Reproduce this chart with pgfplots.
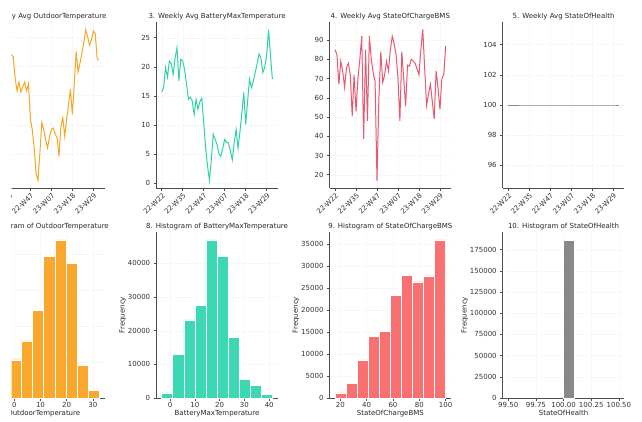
\documentclass[border=0pt]{standalone}
\usepackage{pgfplots}
\pgfplotsset{compat=1.18}
\usepackage{fontspec}
\setmainfont{DejaVu Sans}
\definecolor{corange}{RGB}{245,166,35}
\definecolor{horange}{RGB}{250,168,45}
\definecolor{cteal}{RGB}{46,210,168}
\definecolor{hteal}{RGB}{60,216,180}
\definecolor{cred}{RGB}{232,88,110}
\definecolor{hred}{RGB}{248,112,112}
\definecolor{cgray}{RGB}{136,136,136}
\pgfplotsset{
  base/.style={
    scale only axis, width=121.7pt, height=166pt, anchor=south west,
    axis x line*=bottom, axis y line*=left,
    axis line style={black!70, line width=0.6pt},
    every tick/.style={black!70, line width=0.5pt},
    tick align=outside, major tick length=2.5pt,
    tick label style={font=\fontsize{7}{8}\selectfont, text=black!80},
    x tick label style={inner sep=1.5pt},
    label style={font=\fontsize{7}{8}\selectfont, text=black!85},
    xlabel style={inner sep=1pt},
    title style={font=\fontsize{7}{8}\selectfont, text=black!85, at={(0.5,1)}, anchor=south, yshift=-6pt, inner sep=1.5pt},
    /pgf/number format/assume math mode=true,
    /pgf/number format/fixed,
    /pgf/number format/1000 sep={},
    scaled ticks=false,
    grid=major, grid style={black!3, line width=0.3pt},
  },
  lineax/.style={base, xmin=-2.9, xmax=60.9, xtick={0,11,22,33,44,55},
    xticklabels={22-W22,22-W35,22-W47,23-W07,23-W18,23-W29},
    x tick label style={rotate=45, anchor=north east, inner sep=1pt}},
  histax/.style={base, ymin=0, ylabel={Frequency}, ylabel style={yshift=-5pt}},
}
\begin{document}
\begin{tikzpicture}
\useasboundingbox (0pt,0pt) rectangle (642pt,421pt);
\begin{scope}
\clip (11.5pt,0pt) rectangle (642pt,421pt);
% ---------- Row 1 ----------
\begin{axis}[lineax, at={(-17.1pt,233pt)}, ymin=-0.7, ymax=27.5, ytick={0,5,10,15,20,25},
  title={2. Weekly Avg OutdoorTemperature}]
\addplot[corange, line width=1pt] coordinates {
(0,14) (1,15) (2,17) (3,16) (4,18) (5,17) (6,19) (7,18) (8,20) (9,19) (10,21) (11,20) (12,22)
(13,21.6) (14,18.0) (15,15.8) (16,17.3) (17,15.6) (18,16.5) (19,17.3) (20,15.8) (21,17.0)
(22,11.0) (23,9.2) (24,6.0) (25,1.7) (26,0.6) (27,5.5) (28,10.4) (29,9.2) (30,7.5) (31,6.1)
(32,8.0) (33,9.2) (34,9.5) (35,8.5) (36,7.8) (37,4.7) (38,9.8) (39,11.2) (40,8.1) (41,11)
(42,13.5) (43,16.1) (44,11.8) (45,17) (46,22.5) (47,19) (48,20.5) (49,22.2) (50,24) (51,26.2)
(52,25) (53,23.6) (54,24.5) (55,26) (56,25.5) (57,21.3) (58,21.0)};
\end{axis}
\begin{axis}[lineax, at={(156.2pt,233pt)}, ymin=-0.85, ymax=27.7, ytick={0,5,10,15,20,25},
  title={3. Weekly Avg BatteryMaxTemperature}]
\addplot[cteal, line width=1pt] coordinates {
(0,15.6) (1,16.5) (2,19.9) (3,18.2) (4,21.0) (5,20.5) (6,18.7) (7,21.5) (8,23.3) (9,17.6)
(10,21.3) (11,21.0) (12,19.5) (13,17.0) (14,14.4) (15,14.8) (16,14.1) (17,11.8) (18,14.4)
(19,12.7) (20,14.0) (21,14.6) (22,10.4) (23,6.0) (24,3.0) (25,0.45) (26,4.0) (27,8.4) (28,7.5)
(29,6.6) (30,5.0) (31,4.6) (32,6.0) (33,7.5) (34,7.0) (35,6.9) (36,5.5) (37,4.0) (38,7.0)
(39,9.2) (40,6.0) (41,8.8) (42,12.0) (43,15.6) (44,10.1) (45,14.0) (46,17.9) (47,16.4)
(48,17.5) (49,19.0) (50,20.5) (51,22.2) (52,21.5) (53,19.0) (54,19.9) (55,22.0) (56,26.4)
(57,22.0) (58,17.9)};
\end{axis}
\begin{axis}[lineax, at={(329.5pt,233pt)}, ymin=13.1, ymax=99.4, ytick={20,30,...,90},
  title={4. Weekly Avg StateOfChargeBMS}]
\addplot[cred, line width=1pt] coordinates {
(0,85) (1,82.5) (2,67) (3,79) (4,74) (5,65.5) (6,75.5) (7,78) (8,72) (9,50.5) (10,72) (11,53)
(12,70) (13,80) (14,92) (15,38.5) (16,85) (17,48) (18,92) (19,80) (20,73) (21,68.5) (22,17)
(23,60) (24,84) (25,68) (26,72) (27,79) (28,74) (29,85) (30,92) (31,88) (32,82.5) (33,70)
(34,48) (35,84) (36,70) (37,55.5) (38,77) (39,76.5) (40,80) (41,79) (42,78) (43,75) (44,72)
(45,85) (46,95.5) (47,75) (48,56) (49,62) (50,67) (51,58) (52,49) (53,74) (54,65) (55,54)
(56,70) (57,72) (58,87)};
\end{axis}
\begin{axis}[lineax, at={(502.7pt,233pt)}, ymin=94.5, ymax=105.5, ytick={96,98,...,104},
  title={5. Weekly Avg StateOfHealth}]
\addplot[cgray, line width=1pt] coordinates {(0,100) (11,100) (22,100) (33,100) (44,100) (55,100) (58,100)};
\end{axis}
% ---------- Row 2 ----------
\begin{axis}[histax, at={(-17.1pt,23pt)}, xmin=-12.0, xmax=34.5, ymax=46074,
  xtick={0,10,20,30}, ytick={0,10000,...,40000},
  title={7. Histogram of OutdoorTemperature}, xlabel={OutdoorTemperature}]
\addplot[ybar, bar width=4.23, bar shift=0pt, fill=horange, draw=white, line width=0.5pt] coordinates {
(-7.785,420) (-3.555,2240) (0.675,10560) (4.905,15880) (9.135,24280) (13.365,39310)
(17.595,43880) (21.825,37350) (26.055,8960) (30.285,2160)};
\end{axis}
\begin{axis}[histax, at={(156.2pt,23pt)}, xmin=-5.6, xmax=43.5, ymax=49350,
  xtick={0,10,20,30,40}, ytick={0,10000,...,40000},
  title={8. Histogram of BatteryMaxTemperature}, xlabel={BatteryMaxTemperature}]
\addplot[ybar, bar width=4.47, bar shift=0pt, fill=hteal, draw=white, line width=0.5pt] coordinates {
(-1.165,1500) (3.305,13000) (7.775,23260) (12.245,27450) (16.715,47000) (21.185,42030)
(25.655,18080) (30.125,5500) (34.595,3800) (39.065,1000)};
\end{axis}
\begin{axis}[histax, at={(329.5pt,23pt)}, xmin=11.8, xmax=104.2, ymax=37750,
  xtick={20,40,60,80,100}, ytick={0,5000,...,35000},
  title={9. Histogram of StateOfChargeBMS}, xlabel={StateOfChargeBMS}]
\addplot[ybar, bar width=8.4, bar shift=0pt, fill=hred, draw=white, line width=0.5pt] coordinates {
(20.2,1150) (28.6,3300) (37.0,8500) (45.4,14000) (53.8,15150) (62.2,23350) (70.6,27900)
(79.0,26400) (87.4,27750) (95.8,35950)};
\end{axis}
\begin{axis}[histax, at={(502.7pt,23pt)}, xmin=99.45, xmax=100.55, ymax=195825,
  xtick={99.5,99.75,100,100.25,100.5}, xticklabels={99.50,99.75,100.00,100.25,100.50},
  ytick={0,25000,...,175000},
  title={10. Histogram of StateOfHealth}, xlabel={StateOfHealth}]
\addplot[ybar, bar width=0.1, bar shift=0pt, fill=cgray, draw=white, line width=0.5pt] coordinates {
(100.05,186500)};
\end{axis}
\end{scope}
\end{tikzpicture}
\end{document}
